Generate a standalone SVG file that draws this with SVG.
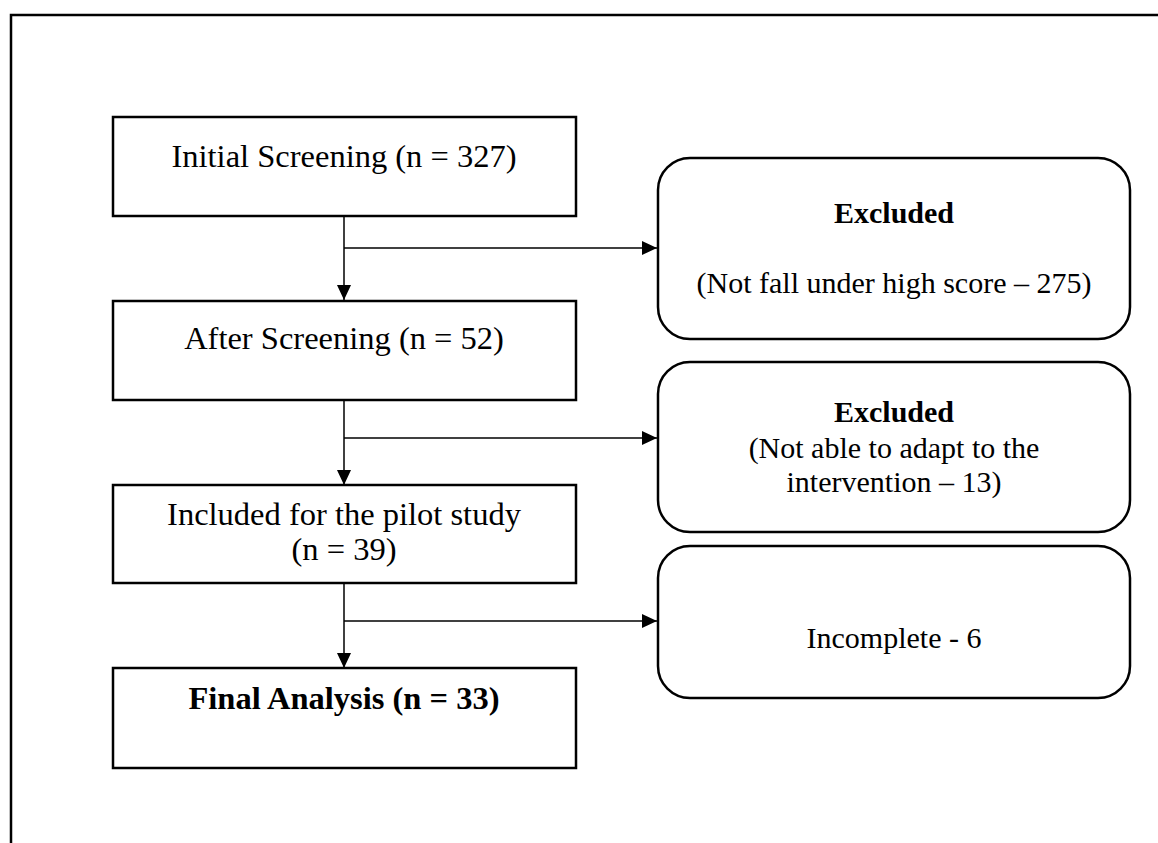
<svg xmlns="http://www.w3.org/2000/svg" width="1158" height="843" viewBox="0 0 1158 843">
<style>
.box{fill:#fff;stroke:#000;stroke-width:2.5}
.rbox{fill:#fff;stroke:#000;stroke-width:2.5}
.t{font-family:"Liberation Serif","Times New Roman",serif;fill:#000;text-anchor:middle}
.l{font-size:32.5px}
.r{font-size:30px}
.b{font-weight:bold}
.c{fill:none;stroke:#000;stroke-width:1.5}
</style>
<defs>
<marker id="ah" viewBox="0 0 15 14" refX="15" refY="7" markerWidth="15" markerHeight="14" markerUnits="userSpaceOnUse" orient="auto">
<path d="M0,0 L15,7 L0,14 Z" fill="#000"/>
</marker>
</defs>
<rect width="1158" height="843" fill="#fff"/>
<path d="M11,843 V15 H1158" fill="none" stroke="#000" stroke-width="2.5"/>
<g id="connectors">
<path class="c" d="M344,216 V300" marker-end="url(#ah)"/>
<path class="c" d="M344,248 H657" marker-end="url(#ah)"/>
<path class="c" d="M344,401 V485" marker-end="url(#ah)"/>
<path class="c" d="M344,438 H657" marker-end="url(#ah)"/>
<path class="c" d="M344,584 V668" marker-end="url(#ah)"/>
<path class="c" d="M344,621 H657" marker-end="url(#ah)"/>
</g>
<g id="initial">
<rect class="box" x="113" y="117" width="463" height="99"/>
<text class="t l" x="344" y="167">Initial Screening (n = 327)</text>
</g>
<g id="after">
<rect class="box" x="113" y="301" width="463" height="99"/>
<text class="t l" x="344" y="349">After Screening (n = 52)</text>
</g>
<g id="included">
<rect class="box" x="113" y="485" width="463" height="98"/>
<text class="t l" x="344" y="525">Included for the pilot study</text>
<text class="t l" x="344" y="560">(n = 39)</text>
</g>
<g id="final">
<rect class="box" x="113" y="668" width="463" height="100"/>
<text class="t l b" x="344" y="709">Final Analysis (n = 33)</text>
</g>
<g id="excluded1">
<rect class="rbox" x="658" y="158" width="472" height="181" rx="32" ry="32"/>
<text class="t r b" x="894" y="223">Excluded</text>
<text class="t r" x="894" y="293">(Not fall under high score – 275)</text>
</g>
<g id="excluded2">
<rect class="rbox" x="658" y="362" width="472" height="170" rx="32" ry="32"/>
<text class="t r b" x="894" y="422">Excluded</text>
<text class="t r" x="894" y="458">(Not able to adapt to the</text>
<text class="t r" x="894" y="492">intervention – 13)</text>
</g>
<g id="incomplete">
<rect class="rbox" x="658" y="546" width="472" height="152" rx="32" ry="32"/>
<text class="t r" x="894" y="648">Incomplete - 6</text>
</g>
</svg>
